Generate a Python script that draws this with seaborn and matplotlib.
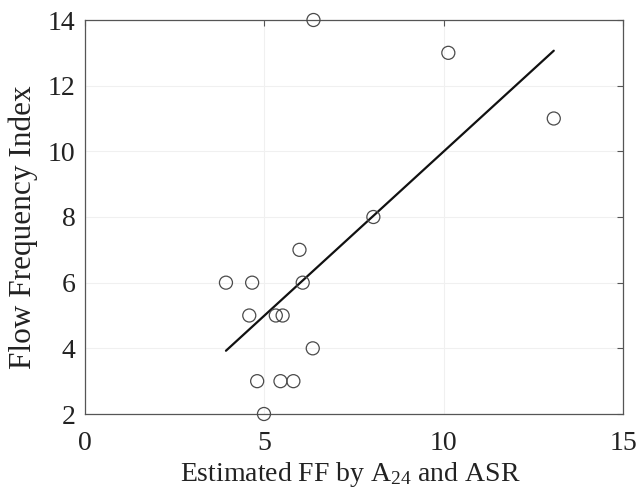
import matplotlib
matplotlib.use("Agg")
import matplotlib.pyplot as plt
import seaborn as sns
import pandas as pd

# Data
estimated_ff = [6.37, 10.13, 13.07, 8.04, 5.98, 3.93, 4.66, 6.07, 4.58, 5.32,
                5.51, 6.35, 4.80, 5.45, 5.81, 4.99]
flow_freq_index = [14, 13, 11, 8, 7, 6, 6, 6, 5, 5, 5, 4, 3, 3, 3, 2]
x_ticks = [0, 5, 10, 15]
y_ticks = [2, 4, 6, 8, 10, 12, 14]

df = pd.DataFrame({"x": estimated_ff, "y": flow_freq_index})

sns.set_style("white")
plt.rcParams["font.family"] = ["Liberation Serif", "DejaVu Serif"]
plt.rcParams["mathtext.fontset"] = "custom"
plt.rcParams["mathtext.rm"] = "Liberation Serif"
plt.rcParams["mathtext.it"] = "Liberation Serif:italic"

fig = plt.figure(figsize=(6.41, 5.01), dpi=100)
ax = fig.add_axes([85 / 641, 1 - 414 / 501, (623 - 85) / 641, (414 - 20) / 501])

ax.grid(True, color="#f0f0f0", linewidth=0.8)
ax.set_axisbelow(True)

sns.regplot(data=df, x="x", y="y", ax=ax, ci=None, scatter=False,
            line_kws={"color": "#111111", "linewidth": 1.6})
sns.scatterplot(data=df, x="x", y="y", ax=ax, marker="o", s=88,
                facecolor="none", edgecolor="#4a4a4a", linewidth=0.9,
                clip_on=False, zorder=3)

ax.set_xlim(0, 15)
ax.set_ylim(2, 14)
ax.set_xticks(x_ticks)
ax.set_yticks(y_ticks)

for side in ["top", "right", "left", "bottom"]:
    ax.spines[side].set_visible(True)
    ax.spines[side].set_color("#555555")
    ax.spines[side].set_linewidth(0.9)

ax.tick_params(axis="both", direction="in", length=4, width=0.8, color="#555555",
               top=True, right=True, labelsize=20, labelcolor="#222222")
ax.tick_params(axis="x", pad=12)
ax.tick_params(axis="y", pad=7)

ax.set_xlabel(r"Estimated FF by A$_{24}$ and ASR", fontsize=20, color="#222222")
ax.set_ylabel("Flow Frequency Index", fontsize=22.5, color="#222222")
ax.xaxis.set_label_coords((350 - 85) / 538, (414 - 460) / 394)
ax.yaxis.set_label_coords((38 - 85) / 538, (414 - 227) / 394)

fig.savefig("out.png", dpi=100)
